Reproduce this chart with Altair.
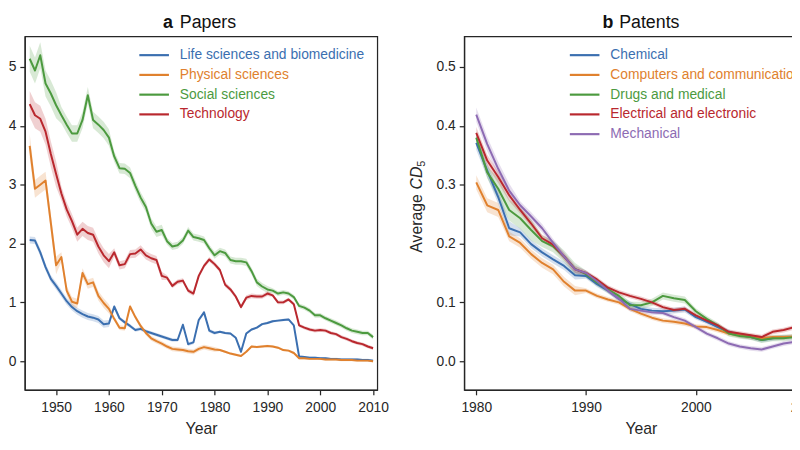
import altair as alt
import pandas as pd

FONT = "Liberation Sans"
INK = "#262626"

# ---------------- Panel a: Papers ----------------
years_a = list(range(1945, 2011))
cats_a = ["Life sciences and biomedicine", "Physical sciences", "Social sciences", "Technology"]
colors_a = ["#3b6fb0", "#e0812e", "#4c9a3f", "#b9282e"]

life_a = [0.206, 0.205, 0.185, 0.160, 0.140, 0.128, 0.115, 0.102, 0.092, 0.085,
          0.080, 0.076, 0.074, 0.071, 0.063, 0.064, 0.093, 0.073, 0.066, 0.060,
          0.053, 0.055, 0.051, 0.048, 0.045, 0.042, 0.039, 0.036, 0.036, 0.062,
          0.029, 0.032, 0.070, 0.083, 0.052, 0.048, 0.050, 0.048, 0.047, 0.040,
          0.016, 0.047, 0.054, 0.057, 0.063, 0.065, 0.068, 0.069, 0.070, 0.071,
          0.061, 0.008, 0.007, 0.006, 0.006, 0.005, 0.005, 0.004, 0.004, 0.003,
          0.003, 0.003, 0.003, 0.002, 0.002, 0.001]
phys_a = [0.366, 0.293, 0.300, 0.307, 0.235, 0.163, 0.177, 0.120, 0.101, 0.098,
          0.150, 0.131, 0.134, 0.111, 0.099, 0.089, 0.072, 0.057, 0.056, 0.093,
          0.075, 0.060, 0.048, 0.039, 0.034, 0.030, 0.025, 0.021, 0.020, 0.019,
          0.017, 0.016, 0.021, 0.024, 0.022, 0.020, 0.019, 0.016, 0.013, 0.011,
          0.009, 0.016, 0.025, 0.024, 0.025, 0.026, 0.025, 0.023, 0.019, 0.018,
          0.014, 0.005, 0.005, 0.004, 0.004, 0.004, 0.003, 0.003, 0.003, 0.002,
          0.002, 0.002, 0.001, 0.001, 0.001, 0.000]
soc_a = [0.514, 0.494, 0.520, 0.472, 0.455, 0.435, 0.418, 0.402, 0.387, 0.387,
         0.410, 0.452, 0.410, 0.402, 0.393, 0.380, 0.348, 0.328, 0.327, 0.320,
         0.298, 0.278, 0.262, 0.234, 0.220, 0.223, 0.204, 0.195, 0.197, 0.205,
         0.222, 0.211, 0.209, 0.206, 0.192, 0.180, 0.187, 0.184, 0.172, 0.170,
         0.170, 0.168, 0.153, 0.134, 0.127, 0.122, 0.120, 0.115, 0.117, 0.115,
         0.109, 0.094, 0.091, 0.086, 0.078, 0.078, 0.073, 0.069, 0.065, 0.061,
         0.056, 0.052, 0.050, 0.048, 0.048, 0.041]
tech_a = [0.437, 0.418, 0.412, 0.390, 0.352, 0.318, 0.285, 0.258, 0.238, 0.215,
          0.225, 0.218, 0.215, 0.195, 0.180, 0.170, 0.185, 0.163, 0.165, 0.182,
          0.183, 0.190, 0.180, 0.175, 0.172, 0.145, 0.142, 0.128, 0.135, 0.137,
          0.120, 0.115, 0.145, 0.162, 0.173, 0.165, 0.155, 0.130, 0.122, 0.110,
          0.092, 0.108, 0.111, 0.110, 0.110, 0.115, 0.112, 0.100, 0.100, 0.105,
          0.097, 0.061, 0.057, 0.054, 0.052, 0.053, 0.052, 0.048, 0.046, 0.041,
          0.038, 0.034, 0.031, 0.029, 0.025, 0.022]
# half-widths of the shaded confidence bands (coarse readings)
ci_life_a = [0.006] * 16 + [0.003] * 20 + [0.002] * 30
ci_phys_a = [0.02] + [0.015] * 5 + [0.008] * 10 + [0.004] * 20 + [0.002] * 30
ci_soc_a = [0.022] * 6 + [0.014] * 10 + [0.009] * 10 + [0.006] * 20 + [0.004] * 20
ci_tech_a = [0.022] * 6 + [0.012] * 10 + [0.007] * 10 + [0.004] * 20 + [0.003] * 20

# ---------------- Panel b: Patents ----------------
years_b = list(range(1980, 2010))
cats_b = ["Chemical", "Computers and communications", "Drugs and medical",
          "Electrical and electronic", "Mechanical"]
colors_b = ["#3b6fb0", "#e0812e", "#4c9a3f", "#b9282e", "#8d6bb3"]

chem_b = [0.371, 0.324, 0.279, 0.226, 0.219, 0.199, 0.185, 0.173, 0.162, 0.146,
          0.145, 0.131, 0.120, 0.106, 0.097, 0.089, 0.086, 0.085, 0.086, 0.088,
          0.075, 0.067, 0.058, 0.050, 0.044, 0.041, 0.036, 0.039, 0.041, 0.041]
comp_b = [0.304, 0.265, 0.257, 0.212, 0.201, 0.182, 0.167, 0.156, 0.135, 0.120,
          0.120, 0.111, 0.105, 0.100, 0.089, 0.081, 0.074, 0.069, 0.067, 0.064,
          0.059, 0.058, 0.053, 0.047, 0.044, 0.041, 0.039, 0.041, 0.041, 0.042]
drug_b = [0.380, 0.321, 0.293, 0.257, 0.243, 0.223, 0.204, 0.195, 0.178, 0.157,
          0.148, 0.134, 0.122, 0.111, 0.095, 0.095, 0.100, 0.111, 0.107, 0.104,
          0.085, 0.072, 0.061, 0.047, 0.043, 0.041, 0.036, 0.039, 0.039, 0.041]
elec_b = [0.388, 0.341, 0.313, 0.282, 0.257, 0.234, 0.209, 0.198, 0.178, 0.156,
          0.150, 0.139, 0.125, 0.117, 0.111, 0.106, 0.100, 0.092, 0.087, 0.089,
          0.078, 0.069, 0.061, 0.050, 0.047, 0.044, 0.041, 0.050, 0.053, 0.058]
mech_b = [0.419, 0.369, 0.327, 0.290, 0.265, 0.246, 0.226, 0.201, 0.178, 0.156,
          0.150, 0.136, 0.120, 0.106, 0.089, 0.086, 0.083, 0.082, 0.075, 0.069,
          0.058, 0.047, 0.039, 0.030, 0.025, 0.022, 0.020, 0.025, 0.030, 0.033]
ci_chem_b = [0.012] * 4 + [0.007] * 6 + [0.005] * 10 + [0.004] * 10
ci_comp_b = [0.012] * 3 + [0.008] * 7 + [0.004] * 20
ci_drug_b = [0.01] * 2 + [0.018] * 4 + [0.01] * 4 + [0.006] * 10 + [0.005] * 10
ci_elec_b = [0.01] * 4 + [0.006] * 6 + [0.004] * 20
ci_mech_b = [0.012] * 4 + [0.007] * 6 + [0.004] * 20

YDOM = [-0.0487, 0.552]
YTICKS = [0.0, 0.1, 0.2, 0.3, 0.4, 0.5]


def long_table(years, cats, series, cis):
    rows = []
    for c, vals, ci in zip(cats, series, cis):
        assert len(vals) == len(years) == len(ci), c
        for yr, v, e in zip(years, vals, ci):
            rows.append({"year": yr, "cat": c, "v": v, "lo": v - e, "hi": v + e})
    return pd.DataFrame(rows)


def panel(df, cats, colors, xdom, xticks, letter, name, leg_x):
    cscale = alt.Scale(domain=cats, range=colors)
    xenc = alt.X("year:Q", scale=alt.Scale(domain=xdom, nice=False, zero=False),
                 axis=alt.Axis(values=xticks, format="d", title="Year"))
    yscale = alt.Scale(domain=YDOM, nice=False, zero=False)
    yaxis = alt.Axis(values=YTICKS, format=".1f", title=None)
    expr = " : ".join(f"datum.label === '{c}' ? '{col}'" for c, col in zip(cats, colors)) + " : '#000000'"
    legend = alt.Legend(
        orient="none", legendX=leg_x, legendY=12, title=None,
        symbolType="M-3,0H3", symbolSize=100, symbolStrokeWidth=2.2, symbolOpacity=1,
        labelFont=FONT, labelFontSize=14, labelOffset=19, rowPadding=6,
        labelLimit=500, labelColor=alt.ExprRef(expr))
    band = alt.Chart(df).mark_area(opacity=0.22).encode(
        x=xenc, y=alt.Y("lo:Q", scale=yscale, axis=yaxis), y2="hi:Q",
        color=alt.Color("cat:N", scale=cscale, legend=legend))
    line = alt.Chart(df).mark_line(strokeWidth=2, strokeJoin="round").encode(
        x=xenc, y=alt.Y("v:Q", scale=yscale, axis=yaxis),
        color=alt.Color("cat:N", scale=cscale, legend=legend))
    tdf = pd.DataFrame({"t": [0]})
    t1 = alt.Chart(tdf).mark_text(text=letter, fontWeight="bold", fontSize=18, align="left",
                                  baseline="alphabetic", font=FONT, color="#111111").encode(
        x=alt.value(140), y=alt.value(-9))
    t2 = alt.Chart(tdf).mark_text(text=name, fontSize=18, align="left",
                                  baseline="alphabetic", font=FONT, color="#111111").encode(
        x=alt.value(157), y=alt.value(-9))
    return [band, line, t1, t2]


df_a = long_table(years_a, cats_a, [life_a, phys_a, soc_a, tech_a],
                  [ci_life_a, ci_phys_a, ci_soc_a, ci_tech_a])
df_b = long_table(years_b, cats_b, [chem_b, comp_b, drug_b, elec_b, mech_b],
                  [ci_chem_b, ci_comp_b, ci_drug_b, ci_elec_b, ci_mech_b])

layers_a = panel(df_a, cats_a, colors_a, [1944.07, 2010.8],
                 [1950, 1960, 1970, 1980, 1990, 2000, 2010], "a", "Papers", 124)
pa = alt.layer(*layers_a).properties(width=357, height=358)

layers_b = panel(df_b, cats_b, colors_b, [1978.9, 2011.1],
                 [1980, 1990, 2000, 2010], "b", "Patents", 115)
tdf = pd.DataFrame({"t": [0]})
yt1 = alt.Chart(tdf).mark_text(text="Average", fontSize=16, align="left", baseline="alphabetic",
                               angle=270, font=FONT, color=INK).encode(x=alt.value(-43), y=alt.value(219))
yt2 = alt.Chart(tdf).mark_text(text="CD", fontSize=16, fontStyle="italic", align="left",
                               baseline="alphabetic", angle=270, font=FONT, color=INK).encode(
    x=alt.value(-43), y=alt.value(155))
yt3 = alt.Chart(tdf).mark_text(text="5", fontSize=11, align="left", baseline="alphabetic",
                               angle=270, font=FONT, color=INK).encode(x=alt.value(-40), y=alt.value(132))
pb = alt.layer(*layers_b, yt1, yt2, yt3).properties(width=358, height=358)

chart = alt.hconcat(pa, pb, spacing=88, bounds="flush").resolve_scale(
    color="independent"
).resolve_legend(
    color="independent"
).properties(
    padding={"left": -13, "top": 2, "right": -30, "bottom": 0}
).configure_view(
    stroke=INK, strokeWidth=1.25
).configure_axis(
    labelFont=FONT, labelFontSize=14, labelColor=INK, titleFont=FONT, titleFontSize=16,
    titleColor=INK, titleFontWeight="normal", tickColor=INK, domainColor=INK,
    tickSize=5, tickWidth=1.25, domainWidth=1.25, labelPadding=4, titlePadding=7, grid=False
).configure_axisX(
    labelPadding=6, titlePadding=6
).configure_text(font=FONT)

chart.save("out.html", embed_options={"renderer": "svg", "actions": False})
